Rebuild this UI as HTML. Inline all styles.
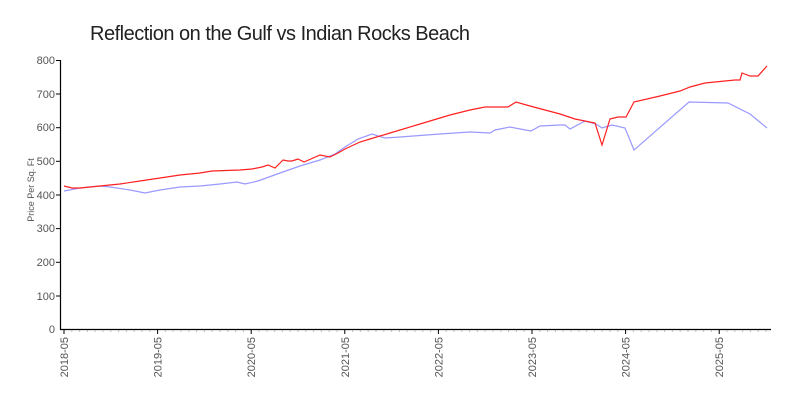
<!DOCTYPE html>
<html><head><meta charset="utf-8"><style>
body{margin:0;background:#fff;}
svg text{font-family:"Liberation Sans",sans-serif;fill:#555;}
</style></head><body>
<svg width="800" height="400" xmlns="http://www.w3.org/2000/svg">
<text x="90" y="40" style="font-size:20px;fill:#222" textLength="380">Reflection on the Gulf vs Indian Rocks Beach</text>
<g stroke="#000" stroke-width="1.2" fill="none">
<line x1="60.5" y1="60" x2="60.5" y2="330"/>
<line x1="60" y1="329.5" x2="771" y2="329.5"/>
</g>
<g stroke="#000" stroke-width="1">
<line x1="56" y1="60.5" x2="61" y2="60.5"/><line x1="56" y1="94" x2="61" y2="94"/><line x1="56" y1="127.7" x2="61" y2="127.7"/><line x1="56" y1="161.3" x2="61" y2="161.3"/><line x1="56" y1="195" x2="61" y2="195"/><line x1="56" y1="228.6" x2="61" y2="228.6"/><line x1="56" y1="262.3" x2="61" y2="262.3"/><line x1="56" y1="296" x2="61" y2="296"/>
</g>
<g font-size="11" text-anchor="end">
<text x="55" y="64">800</text><text x="55" y="98">700</text><text x="55" y="131">600</text><text x="55" y="165">500</text><text x="55" y="199">400</text><text x="55" y="232">300</text><text x="55" y="266">200</text><text x="55" y="300">100</text><text x="55" y="333">0</text>
</g>
<text transform="translate(34,190) rotate(-90)" font-size="9" text-anchor="middle">Price Per Sq. Ft</text>
<g id="ticks" stroke="#000"></g>
<g font-size="11" id="xl"></g>
<polyline fill="none" stroke="#9999ff" stroke-width="1.2" points="64,191 80,188 100,186 110,187 130,190 145,193 160,190 180,187 200,186 220,184 237,182 245,184 258,181 280,173 300,166 320,160 335,154 345,147 358,139 372,134 385,138 400,137 440,134 470,132 490,133 495,130 505,128 510,127 520,129 531,131 540,126 560,125 565,125 570,129 585,121 596,124 602,128 612,125 625,128 634,150 689,102 728,103 750,114 767,128"/>
<polyline fill="none" stroke="#ff2020" stroke-width="1.2" points="64,186 72,188 80,188 100,186 120,184 140,181 160,178 180,175 200,173 212,171 240,170 252,169 262,167 268,165 275,168 283,160 288,161 292,161 298,159 304,162 320,155 330,157 338,153 345,149 360,142 370,139 390,133 420,124 450,115 470,110 485,107 500,107 508,107 516,102 530,106 560,114 575,119 595,123 602,145 610,119 618,117 626,117 634,102 660,96 680,91 690,87 705,83 735,80 740,80 742,73 750,76 758,76 767,66"/>
<script>
var t=document.getElementById('ticks'),xl=document.getElementById('xl'),ns='http://www.w3.org/2000/svg';
for(var m=0;m<=90;m++){var x=64+m*93.6/12;if(x>771)break;var l=document.createElementNS(ns,'line');var maj=m%12==0;
l.setAttribute('x1',x);l.setAttribute('x2',x);l.setAttribute('y1',330);l.setAttribute('y2',maj?334:332);l.setAttribute('stroke',maj?'#000':'#bbb');t.appendChild(l);
if(maj){var tx=document.createElementNS(ns,'text');tx.setAttribute('transform','translate('+(x+4)+',337) rotate(-90)');tx.setAttribute('text-anchor','end');tx.textContent=(2018+m/12)+'-05';xl.appendChild(tx);}}
</script>
</svg>
</body></html>
